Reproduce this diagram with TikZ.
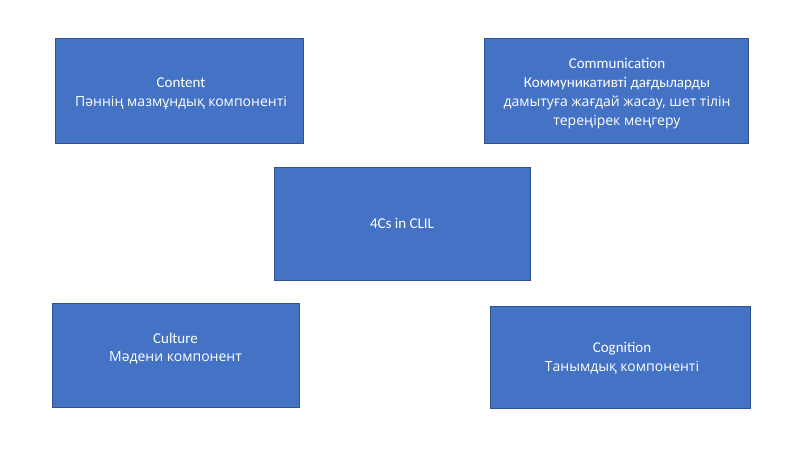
\documentclass[tikz,border=0pt]{standalone}
\usepackage{fontspec}
\setmainfont{Carlito}
\newfontfamily\kzfont{Open Sans}
\usepackage{tikz}
\usetikzlibrary{positioning}
\definecolor{boxfill}{HTML}{4472C4}
\definecolor{boxline}{HTML}{2F528F}

\begin{document}
\begin{tikzpicture}[
  x=1pt, y=-1pt,
  box/.style={draw=boxline, fill=boxfill, line width=1pt, inner sep=0pt},
  txt/.style={text=white, align=center, inner sep=0pt,
    font=\fontsize{15}{18.8}\selectfont}
]
\useasboundingbox (0,0) rectangle (800,450);
% boxes
\node[box, minimum width=256pt, minimum height=113pt] (clil) at (402,223.5) {};
\node[box, minimum width=248pt, minimum height=105pt] (content) at (179,90.5) {};
\node[box, minimum width=264pt, minimum height=105pt] (communication) at (616,90.5) {};
\node[box, minimum width=247pt, minimum height=104pt] (culture) at (175.5,355) {};
\node[box, minimum width=260pt, minimum height=102pt] (cognition) at (620,357) {};
% texts
\node[txt] (clil-txt) at (402,223.5) {4Cs in CLIL};
\node[txt] (content-txt) at (181,94) {Content\\{\kzfont\fontsize{14}{18.8}\selectfont Пәннің мазмұндық компоненті}};
\node[txt] (communication-txt) at (617,93.5) {Communication\\Коммуникативті дағдыларды\\{\kzfont\fontsize{14}{18.8}\selectfont дамытуға жағдай жасау, шет тілін}\\{\kzfont\fontsize{14}{18.8}\selectfont тереңірек меңгеру}};
\node[txt] (culture-txt) at (175.5,348.5) {Culture\\{\kzfont\fontsize{14}{18.8}\selectfont Мәдени компонент}};
\node[txt] (cognition-txt) at (622,358.5) {Cognition\\{\kzfont\fontsize{14}{18.8}\selectfont Танымдық компоненті}};
\end{tikzpicture}
\end{document}
